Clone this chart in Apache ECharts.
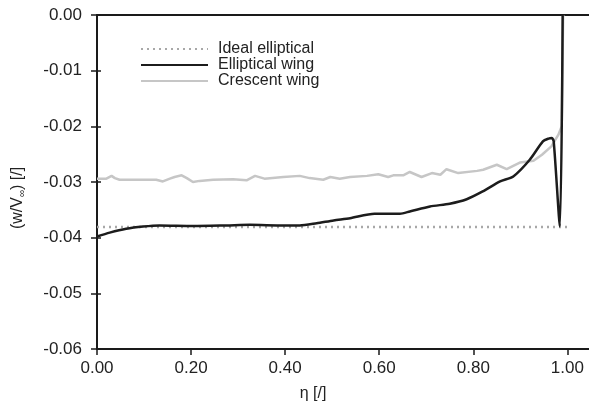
<!DOCTYPE html>
<html>
<head>
<meta charset="utf-8">
<script src="https://cdn.jsdelivr.net/npm/echarts@6/dist/echarts.min.js"></script>
<style>
  html, body { margin: 0; padding: 0; background: #fff; }
  #chart { width: 589px; height: 414px; }
</style>
</head>
<body>
<div id="chart"></div>
<script>
const xTicks = [0, 0.2, 0.4, 0.6, 0.8, 1.0];

const idealEta = [0, 1.0];
const idealVal = [-0.0381, -0.0381];

const ellipticalEta = [0, 0.027, 0.062, 0.098, 0.133, 0.204, 0.275, 0.325, 0.396, 0.431, 0.467, 0.503, 0.538, 0.590, 0.644, 0.665, 0.708, 0.750, 0.786, 0.820, 0.857, 0.885, 0.920, 0.948, 0.960, 0.967, 0.971, 0.984, 0.990];
const ellipticalVal = [-0.0398, -0.0391, -0.0384, -0.0380, -0.0378, -0.0379, -0.0378, -0.0377, -0.0378, -0.0378, -0.0374, -0.0369, -0.0365, -0.0357, -0.0357, -0.0353, -0.0344, -0.0339, -0.0331, -0.0317, -0.0299, -0.0290, -0.0260, -0.0227, -0.0222, -0.0221, -0.0227, -0.0380, 0];

const crescentEta = [0, 0.020, 0.031, 0.038, 0.048, 0.084, 0.126, 0.140, 0.155, 0.165, 0.180, 0.191, 0.204, 0.218, 0.247, 0.289, 0.318, 0.336, 0.356, 0.396, 0.431, 0.452, 0.481, 0.496, 0.516, 0.538, 0.574, 0.598, 0.619, 0.630, 0.651, 0.665, 0.690, 0.712, 0.730, 0.743, 0.768, 0.808, 0.821, 0.850, 0.871, 0.899, 0.928, 0.946, 0.966, 0.981, 0.988, 0.991];
const crescentVal = [-0.0294, -0.0294, -0.0289, -0.0293, -0.0296, -0.0296, -0.0296, -0.0299, -0.0294, -0.0291, -0.0288, -0.0293, -0.0300, -0.0298, -0.0296, -0.0295, -0.0297, -0.0289, -0.0294, -0.0291, -0.0289, -0.0293, -0.0296, -0.0291, -0.0294, -0.0291, -0.0289, -0.0286, -0.0291, -0.0288, -0.0288, -0.0282, -0.0291, -0.0284, -0.0287, -0.0277, -0.0284, -0.0280, -0.0278, -0.0269, -0.0277, -0.0265, -0.0262, -0.0251, -0.0236, -0.0215, -0.0200, 0];

const pairs = (xs, ys) => xs.map((x, i) => [x, ys[i]]);

const chart = echarts.init(document.getElementById('chart'));
const font = 'Liberation Sans, Arial, sans-serif';
const axisColor = '#1a1a1a';
const xMax = 1.046;

chart.setOption({
  animation: false,
  grid: { left: 97, right: 0, top: 15, bottom: 65 },
  legend: {
    orient: 'vertical',
    left: 135,
    top: 36,
    itemWidth: 67,
    itemHeight: 10,
    itemGap: 0,
    itemStyle: { opacity: 0 },
    textStyle: { fontFamily: font, fontSize: 16, color: '#222', lineHeight: 15, padding: [0, 0, 0, 5] },
    data: ['Ideal elliptical', 'Elliptical wing', 'Crescent wing']
  },
  xAxis: [
    {
      type: 'value', min: 0, max: xMax, position: 'bottom',
      name: 'η [/]', nameLocation: 'middle', nameGap: 37,
      nameTextStyle: { fontFamily: font, fontSize: 16, color: '#222', align: 'center', padding: [0, 60, 0, 0] },
      axisLine: { onZero: false, lineStyle: { color: axisColor, width: 2 } },
      axisTick: { length: 6, lineStyle: { color: axisColor, width: 1.5 }, customValues: xTicks },
      axisLabel: { fontFamily: font, fontSize: 17, color: '#222', margin: 11, customValues: xTicks, formatter: v => v.toFixed(2) },
      splitLine: { show: false }
    },
    {
      type: 'value', min: 0, max: xMax, position: 'top',
      axisLine: { onZero: false, lineStyle: { color: axisColor, width: 2 } },
      axisTick: { show: false }, axisLabel: { show: false }, splitLine: { show: false }
    }
  ],
  yAxis: [
    {
      type: 'value', min: -0.06, max: 0, interval: 0.01,
      name: '(w/V{sub|∞}) [/]', nameLocation: 'middle', nameGap: 70,
      nameTextStyle: {
        fontFamily: font, fontSize: 16, color: '#222', padding: [0, 32, 0, 0],
        rich: { sub: { fontFamily: font, fontSize: 10, color: '#222', padding: [8, 0, 0, 0] } }
      },
      axisLine: { show: true, onZero: false, lineStyle: { color: axisColor, width: 2 } },
      axisTick: { show: true, length: 6, lineStyle: { color: axisColor, width: 1.5 } },
      axisLabel: { fontFamily: font, fontSize: 17, color: '#222', margin: 15, formatter: v => v.toFixed(2) },
      splitLine: { show: false }
    },
    {
      type: 'value', min: -0.06, max: 0, interval: 0.01, position: 'left',
      axisLine: { show: false, onZero: false },
      axisTick: { show: true, inside: true, length: 4, lineStyle: { color: axisColor, width: 1.5 } },
      axisLabel: { show: false }, splitLine: { show: false }
    }
  ],
  series: [
    {
      name: 'Ideal elliptical', type: 'line', symbol: 'none', data: pairs(idealEta, idealVal),
      lineStyle: { color: '#a8a8a8', width: 2.5, type: [2, 4] }, itemStyle: { color: '#a8a8a8' }, z: 1
    },
    {
      name: 'Crescent wing', type: 'line', symbol: 'none', data: pairs(crescentEta, crescentVal),
      lineStyle: { color: '#c6c6c6', width: 2.5 }, itemStyle: { color: '#c6c6c6' }, z: 2
    },
    {
      name: 'Elliptical wing', type: 'line', symbol: 'none', smooth: 0.25,
      data: pairs(ellipticalEta, ellipticalVal),
      lineStyle: { color: '#1c1c1c', width: 2.5 }, itemStyle: { color: '#1c1c1c' }, z: 3
    }
  ]
});
</script>
</body>
</html>
